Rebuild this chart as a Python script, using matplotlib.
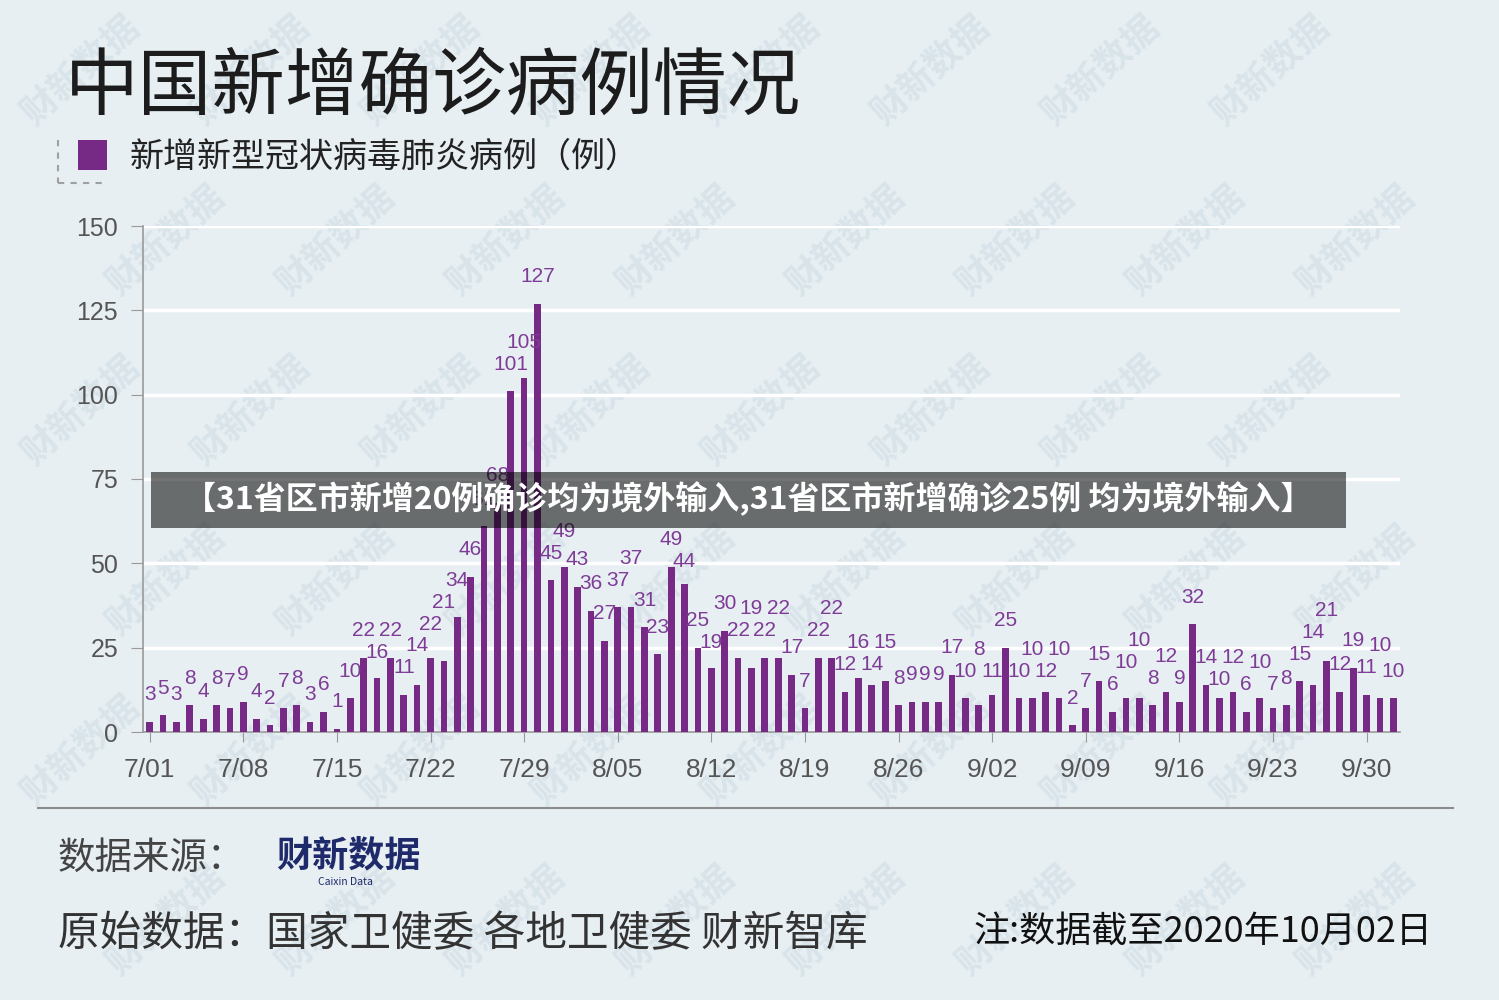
import numpy as np
import matplotlib.pyplot as plt
import pandas as pd
from matplotlib.patches import Rectangle
from matplotlib.lines import Line2D

plt.rcParams['font.family'] = ['Noto Sans CJK SC', 'DejaVu Sans']

days = pd.date_range('2020-07-01', '2020-10-02')
cases = [3, 5, 3, 8, 4, 8, 7, 9, 4, 2, 7, 8, 3, 6, 1, 10, 22, 16, 22, 11,
         14, 22, 21, 34, 46, 61, 68, 101, 105, 127, 45,
         49, 43, 36, 27, 37, 37, 31, 23, 49, 44, 25, 19, 30, 22, 19, 22, 22, 17, 7,
         22, 22, 12, 16, 14, 15, 8, 9, 9, 9, 17, 10,
         8, 11, 25, 10, 10, 12, 10, 2, 7, 15, 6, 10, 10, 8, 12, 9, 32, 14,
         10, 12, 6, 10, 7, 8, 15, 14, 21, 12, 19, 11,
         10, 10]
tick_labels = ['7/01', '7/08', '7/15', '7/22', '7/29', '8/05', '8/12',
               '8/19', '8/26', '9/02', '9/09', '9/16', '9/23', '9/30']

title = '中国新增确诊病例情况'
legend_label = '新增新型冠状病毒肺炎病例（例）'
banner = '【31省区市新增20例确诊均为境外输入,31省区市新增确诊25例 均为境外输入】'

bg = '#e7eff3'
purple = '#772a85'
label_purple = '#7e3c96'
W, H = 1499, 1000

fig = plt.figure(figsize=(W / 100, H / 100), dpi=100, facecolor=bg)

# watermarks, kept away from the edges
for row, y0 in enumerate(range(70, 960, 170)):
    for x0 in range(80 + (row % 2) * 85, 1440, 170):
        fig.text(x0 / W, 1 - y0 / H, '财新数据', fontsize=26, fontweight='bold',
                 color='#d9e4ea', rotation=42, ha='center', va='center', zorder=-5)

ax = fig.add_axes([143 / W, 1 - 732 / H, (1400 - 143) / W, 506 / H])
ax.set_facecolor('none')
x = np.arange(len(days))
ax.bar(x, cases, width=0.5, color=purple, zorder=3)
ax.set_xlim(-0.5, len(days) - 0.5)
ax.set_ylim(0, 150)
ax.set_yticks(range(0, 151, 25))
ax.set_xticks(x[::7])
ax.set_xticklabels(tick_labels)
ax.grid(axis='y', color='white', lw=2.5, zorder=1)
ax.set_axisbelow(True)
for s in ['top', 'right']:
    ax.spines[s].set_visible(False)
for s in ['left', 'bottom']:
    ax.spines[s].set_color('#9a9a9a')
    ax.spines[s].set_linewidth(1.2)
ax.tick_params(axis='y', length=9, color='#9a9a9a', labelsize=18, labelcolor='#555555', pad=9)
ax.tick_params(axis='x', length=7, color='#9a9a9a', labelsize=19, labelcolor='#555555', pad=12)
for lbl in ax.get_xticklabels() + ax.get_yticklabels():
    lbl.set_family('Liberation Sans')

# value labels, nudged up where they would collide with the previous ones
placed = []
for i, v in enumerate(cases):
    w = len(str(v)) * 0.95
    cands = sorted(np.arange(v + 5, v + 45, 0.5), key=lambda c: abs(c - v - 8))
    for y in cands:
        if all(abs(i - j) >= (w + wj) / 2 or abs(y - yj) >= 6.5 for j, yj, wj in placed[-3:]):
            break
    placed.append((i, y, w))
    ax.text(i, y, str(v), ha='center', va='center', fontsize=15, color=label_purple,
            family='Liberation Sans', zorder=4)

# header
fig.text(65 / W, 1 - 88 / H, title, fontsize=53, color='#1c1c1c', va='center')
fig.patches.append(Rectangle((78 / W, 1 - 170 / H), 29 / W, 30 / H, transform=fig.transFigure,
                             facecolor=purple, edgecolor='none'))
fig.text(130 / W, 1 - 157 / H, legend_label, fontsize=24.5, color='#222222', va='center')
fig.lines.append(Line2D([58 / W, 58 / W], [1 - 140 / H, 1 - 183 / H], transform=fig.transFigure,
                        color='#a0a0a0', lw=1.5, ls=(0, (3, 3))))
fig.lines.append(Line2D([58 / W, 103 / W], [1 - 183 / H, 1 - 183 / H], transform=fig.transFigure,
                        color='#a0a0a0', lw=1.5, ls=(0, (3, 3))))

# footer
fig.lines.append(Line2D([38 / W, 1453 / W], [1 - 808 / H, 1 - 808 / H], transform=fig.transFigure,
                        color='#8c8c8c', lw=1.5))
fig.text(58 / W, 1 - 858 / H, '数据来源：', fontsize=27, color='#444444', va='center')
fig.text(276 / W, 1 - 856 / H, '财新数据', fontsize=26, fontweight='bold', color='#1f2a6b', va='center')
fig.text(345 / W, 1 - 882 / H, 'Caixin Data', fontsize=7.5, color='#1f2a6b', ha='center', va='center')
fig.text(58 / W, 1 - 935 / H, '原始数据：国家卫健委 各地卫健委 财新智库', fontsize=30,
         color='#333333', va='center')
fig.text(1432 / W, 1 - 933 / H, '注:数据截至2020年10月02日', fontsize=26, color='#111111',
         ha='right', va='center')

# overlay banner
fig.patches.append(Rectangle((151 / W, 1 - 528 / H), (1346 - 151) / W, 56 / H,
                             transform=fig.transFigure, facecolor='black', alpha=0.55,
                             edgecolor='none', zorder=10))
fig.text(748 / W, 1 - 499 / H, banner, fontsize=23, fontweight='bold', color='white',
         ha='center', va='center', zorder=11)

plt.savefig('out.png', dpi=100, facecolor=bg)
